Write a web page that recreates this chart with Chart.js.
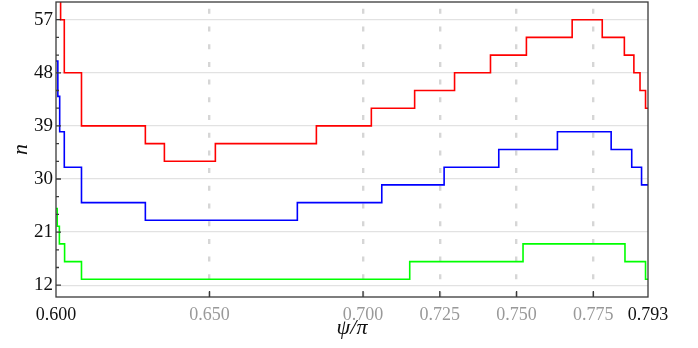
<!DOCTYPE html>
<html>
<head>
  <script src="https://cdn.jsdelivr.net/npm/chart.js"></script>
  <style>
    body { margin: 0; background: #fff; }
  </style>
</head>
<body>
  <canvas id="stepChart" width="698" height="348"></canvas>

  <script>
    // step breakpoints (psi/pi) and the n value that holds from each one
    const redX = [0.600, 0.6015, 0.6027, 0.6083, 0.6291, 0.6353, 0.6519, 0.6848, 0.7027, 0.7168, 0.7298, 0.7415, 0.7532, 0.7681, 0.7779, 0.7851, 0.7882, 0.7902, 0.7920, 0.7928];
    const redN = [63, 57, 48, 39, 36, 33, 36, 39, 42, 45, 48, 51, 54, 57, 54, 51, 48, 45, 42, 42];

    const blueX = [0.600, 0.6006, 0.6012, 0.6027, 0.6083, 0.6291, 0.6786, 0.7061, 0.7264, 0.7442, 0.7633, 0.7808, 0.7875, 0.7907, 0.7928];
    const blueN = [50, 44, 38, 32, 26, 23, 26, 29, 32, 35, 38, 35, 32, 29, 29];

    const greenX = [0.600, 0.6004, 0.6011, 0.6028, 0.6083, 0.7152, 0.7521, 0.7853, 0.7920, 0.7928];
    const greenN = [25, 22, 19, 16, 13, 16, 19, 16, 13, 13];

    const xTicks = [0.600, 0.650, 0.700, 0.725, 0.750, 0.775, 0.7928];
    const xTickLabels = ['0.600', '0.650', '0.700', '0.725', '0.750', '0.775', '0.793'];
    const yTicks = [12, 15, 18, 21, 24, 27, 30, 33, 36, 39, 42, 45, 48, 51, 54, 57];
    const yLabels = [12, 21, 30, 39, 48, 57];

    function points(xs, ys) {
      return xs.map((x, i) => ({ x: x, y: ys[i] }));
    }

    const serif = "'Liberation Serif', 'DejaVu Serif', serif";

    // frame + inward tick marks
    const framePlugin = {
      id: 'frame',
      afterDraw(chart) {
        const ctx = chart.ctx;
        const a = chart.chartArea;
        const xs = chart.scales.x;
        const ys = chart.scales.y;
        ctx.save();
        ctx.strokeStyle = '#3a3a3a';
        ctx.lineWidth = 1.3;
        ctx.strokeRect(a.left, a.top, a.right - a.left, a.bottom - a.top);
        ctx.beginPath();
        xs.ticks.forEach((t, i) => {
          if (i === 0 || i === xs.ticks.length - 1) return;
          const px = xs.getPixelForValue(t.value);
          ctx.moveTo(px, a.bottom);
          ctx.lineTo(px, a.bottom - 6);
        });
        ys.ticks.forEach(t => {
          const py = ys.getPixelForValue(t.value);
          const len = yLabels.includes(t.value) ? 5 : 3;
          ctx.moveTo(a.left, py);
          ctx.lineTo(a.left + len, py);
        });
        ctx.stroke();
        ctx.restore();
      }
    };

    const lineStyle = { borderWidth: 1.6, pointRadius: 0, stepped: true, fill: false };

    new Chart(document.getElementById('stepChart'), {
      type: 'line',
      data: {
        datasets: [
          Object.assign({ data: points(redX, redN), borderColor: '#ff0000' }, lineStyle),
          Object.assign({ data: points(blueX, blueN), borderColor: '#0000ff' }, lineStyle),
          Object.assign({ data: points(greenX, greenN), borderColor: '#00ff00' }, lineStyle)
        ]
      },
      options: {
        responsive: false,
        animation: false,
        layout: { padding: { top: 2, right: 50, left: 0, bottom: 0 } },
        plugins: { legend: { display: false }, tooltip: { enabled: false } },
        scales: {
          x: {
            type: 'linear',
            min: 0.600,
            max: 0.7928,
            afterBuildTicks: s => { s.ticks = xTicks.map(v => ({ value: v })); },
            afterFit: s => { s.height = 51; },
            grid: {
              drawTicks: false,
              lineWidth: 2.4,
              color: c => (c.index === 0 || c.index === xTicks.length - 1) ? 'rgba(0,0,0,0)' : '#d6d6d6'
            },
            border: { display: false, dash: [5, 12.7], dashOffset: 10.9 },
            ticks: {
              autoSkip: false,
              maxRotation: 0,
              padding: 7,
              font: { family: serif, size: 18 },
              color: c => (c.index === 0 || c.index === xTicks.length - 1) ? '#111' : '#999',
              callback: (v, i) => xTickLabels[i]
            },
            title: {
              display: true,
              text: 'ψ/π',
              font: { family: serif, size: 22, style: 'italic' },
              color: '#111',
              padding: { top: 0, bottom: 7 }
            }
          },
          y: {
            min: 10,
            max: 60,
            afterBuildTicks: s => { s.ticks = yTicks.map(v => ({ value: v })); },
            afterFit: s => { s.width = 56; s.paddingTop = 0; s.paddingBottom = 0; },
            grid: {
              drawTicks: false,
              lineWidth: 1.3,
              color: c => (c.tick && yLabels.includes(c.tick.value)) ? '#e2e2e2' : 'rgba(0,0,0,0)'
            },
            border: { display: false },
            ticks: {
              autoSkip: false,
              padding: 3,
              font: { family: serif, size: 19 },
              color: '#111',
              callback: v => yLabels.includes(v) ? String(v) : ''
            },
            title: {
              display: true,
              text: 'n',
              font: { family: serif, size: 22, style: 'italic' },
              color: '#111',
              padding: { top: 8, bottom: 0 }
            }
          }
        }
      },
      plugins: [framePlugin]
    });
  </script>
</body>
</html>
